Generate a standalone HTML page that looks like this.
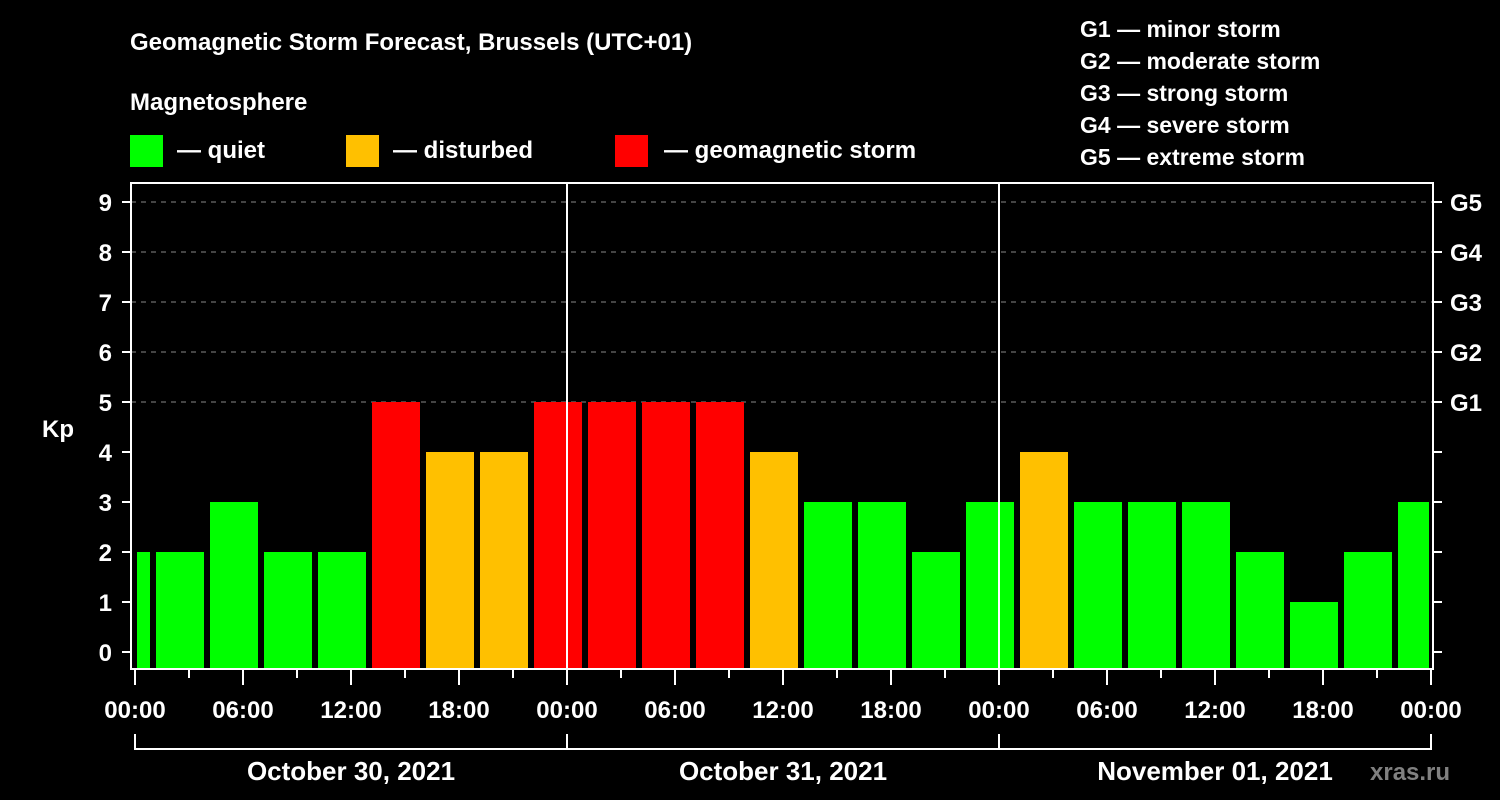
<!DOCTYPE html>
<html><head><meta charset="utf-8"><style>
html,body{margin:0;padding:0;background:#000;}
svg{display:block;font-family:"Liberation Sans",Arial,sans-serif;font-weight:bold;}
</style></head><body>
<svg id="chart" width="1500" height="800" xmlns="http://www.w3.org/2000/svg">
<rect x="0" y="0" width="1500" height="800" fill="#000"/>
<text x="130" y="50" fill="#fff" font-size="24">Geomagnetic Storm Forecast, Brussels (UTC+01)</text>
<text x="130" y="110" fill="#fff" font-size="24">Magnetosphere</text>
<g><rect x="130" y="135" width="33" height="32" fill="#00ff00"/><text x="177" y="158" fill="#fff" font-size="24">— quiet</text></g>
<g><rect x="346" y="135" width="33" height="32" fill="#ffc000"/><text x="393" y="158" fill="#fff" font-size="24">— disturbed</text></g>
<g><rect x="615" y="135" width="33" height="32" fill="#ff0000"/><text x="664" y="158" fill="#fff" font-size="24">— geomagnetic storm</text></g>
<g fill="#fff" font-size="23">
<text x="1080" y="37">G1 — minor storm</text>
<text x="1080" y="69">G2 — moderate storm</text>
<text x="1080" y="101">G3 — strong storm</text>
<text x="1080" y="133">G4 — severe storm</text>
<text x="1080" y="165">G5 — extreme storm</text>
</g>
<g id="plot"></g>
<text x="42" y="437" fill="#fff" font-size="24">Kp</text>
<text x="1370" y="780" fill="#808080" font-size="24">xras.ru</text>
</svg>
<script>
const kpValues = [2,2,3,2,2,5,4,4,5,5,5,5,4,3,3,2,3,4,3,3,3,2,1,2,3];
const yTicks = [0,1,2,3,4,5,6,7,8,9];
const gLabels = ["G1","G2","G3","G4","G5"];
const hourLabels = ["00:00","06:00","12:00","18:00","00:00","06:00","12:00","18:00","00:00","06:00","12:00","18:00","00:00"];
const dayLabels = ["October 30, 2021","October 31, 2021","November 01, 2021"];

const NS="http://www.w3.org/2000/svg";
const g=document.getElementById('plot');
const X0=135, PXH=18, Y0=652, PXK=50, L=131, R=1433, T=183, B=669;
const xs=h=>X0+h*PXH, ys=k=>Y0-k*PXK;
function el(t,a,p){const e=document.createElementNS(NS,t);for(const k in a)e.setAttribute(k,a[k]);(p||g).appendChild(e);return e;}
function color(k){return k>=5?"#ff0000":(k>=4?"#ffc000":"#00ff00");}
// grid
for(const k of yTicks){ if(k<5) continue;
  const ln=el('line',{x1:L,x2:R,y1:ys(k),y2:ys(k),stroke:'#888','stroke-dasharray':'5,5','stroke-width':1});
  
  
}
// bars: bins offset by 1h (UTC+01), first/last clipped
const nHours=72;
kpValues.forEach((v,i)=>{
  let h0=-2+3*i, h1=h0+3;
  let a=Math.max(h0,0), b=Math.min(h1,nHours);
  let x1=xs(a)+(h0<0?2:3), x2=xs(b)-(h1>nHours?2:3);
  const r=el('rect',{x:x1,y:ys(v),width:x2-x1,height:B-ys(v),fill:color(v)});
  
  
});
// day separators
for(const d of [1,2]){
  const ln=el('line',{x1:xs(24*d),x2:xs(24*d),y1:T,y2:B,stroke:'#fff','stroke-width':2});
  
  
}
// frame
const fr=el('rect',{x:L,y:T,width:R-L,height:B-T,fill:'none',stroke:'#fff','stroke-width':2});


// y ticks
yTicks.forEach(k=>{
  el('line',{x1:122,x2:L,y1:ys(k),y2:ys(k),stroke:'#fff','stroke-width':2});
  el('line',{x1:R,x2:1442,y1:ys(k),y2:ys(k),stroke:'#fff','stroke-width':2});
  const t=el('text',{x:112,y:ys(k)+9,fill:'#fff','font-size':24,'text-anchor':'end'});
  t.textContent=k;
  
  
});
gLabels.forEach((s,i)=>{
  const t=el('text',{x:1450,y:ys(5+i)+9,fill:'#fff','font-size':24});
  t.textContent=s;
  
  
});
// x ticks
for(let h=0;h<=nHours;h+=3){
  const major=h%6===0;
  el('line',{x1:xs(h),x2:xs(h),y1:B,y2:major?685:678,stroke:'#fff','stroke-width':2});
}
hourLabels.forEach((s,i)=>{
  const t=el('text',{x:xs(i*6),y:718,fill:'#fff','font-size':24,'text-anchor':'middle'});
  t.textContent=s;
  
  
});
// day bracket
el('line',{x1:xs(0),x2:xs(72),y1:749,y2:749,stroke:'#fff','stroke-width':2});
for(const d of [0,1,2,3]) el('line',{x1:xs(24*d),x2:xs(24*d),y1:734,y2:750,stroke:'#fff','stroke-width':2});
dayLabels.forEach((s,i)=>{
  const t=el('text',{x:xs(24*i+12),y:780,fill:'#fff','font-size':26,'text-anchor':'middle'});
  t.textContent=s;
  
  
});
</script>
</body></html>
